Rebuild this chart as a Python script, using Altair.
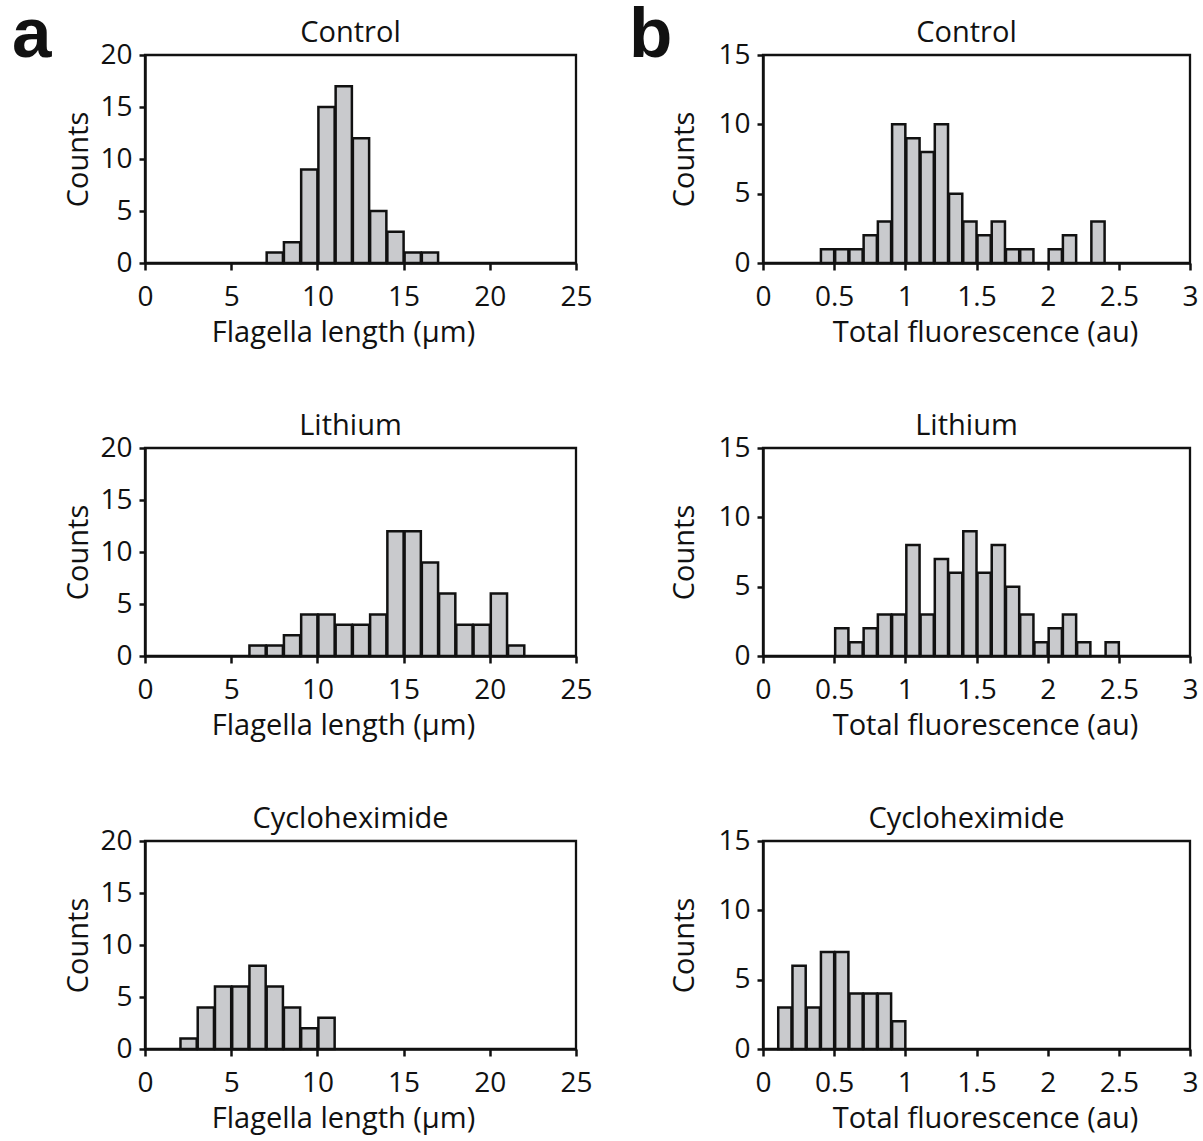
import altair as alt
import pandas as pd

FONT = "Open Sans"
FS_TICK = 28
FS_TEXT = 29

# ---- data ----
titles = ["Control", "Lithium", "Cycloheximide"]

# panel a: flagella length, bin width 1 µm
a_ctrl_starts = [7, 8, 9, 10, 11, 12, 13, 14, 15, 16]
a_ctrl_counts = [1, 2, 9, 15, 17, 12, 5, 3, 1, 1]
a_li_starts = [6, 7, 8, 9, 10, 11, 12, 13, 14, 15, 16, 17, 18, 19, 20, 21]
a_li_counts = [1, 1, 2, 4, 4, 3, 3, 4, 12, 12, 9, 6, 3, 3, 6, 1]
a_cy_starts = [2, 3, 4, 5, 6, 7, 8, 9, 10]
a_cy_counts = [1, 4, 6, 6, 8, 6, 4, 2, 3]
a_width = 1.0

# panel b: total fluorescence, bin width 0.1 au
b_ctrl_starts = [0.4, 0.5, 0.6, 0.7, 0.8, 0.9, 1.0, 1.1, 1.2, 1.3, 1.4, 1.5, 1.6, 1.7, 1.8, 1.9, 2.0, 2.1, 2.2, 2.3]
b_ctrl_counts = [1, 1, 1, 2, 3, 10, 9, 8, 10, 5, 3, 2, 3, 1, 1, 0, 1, 2, 0, 3]
b_li_starts = [0.5, 0.6, 0.7, 0.8, 0.9, 1.0, 1.1, 1.2, 1.3, 1.4, 1.5, 1.6, 1.7, 1.8, 1.9, 2.0, 2.1, 2.2, 2.3, 2.4]
b_li_counts = [2, 1, 2, 3, 3, 8, 3, 7, 6, 9, 6, 8, 5, 3, 1, 2, 3, 1, 0, 1]
b_cy_starts = [0.1, 0.2, 0.3, 0.4, 0.5, 0.6, 0.7, 0.8, 0.9]
b_cy_counts = [3, 6, 3, 7, 7, 4, 4, 4, 2]
b_width = 0.1

a_xticks = [0, 5, 10, 15, 20, 25]
a_yticks = [0, 5, 10, 15, 20]
b_xticks = [0, 0.5, 1, 1.5, 2, 2.5, 3]
b_yticks = [0, 5, 10, 15]

a_xtitle = "Flagella length (µm)"
b_xtitle = "Total fluorescence (au)"
ytitle = "Counts"

PANEL_W_A = 431
PANEL_W_B = 427
PANEL_H = 208

BAR_FILL = "#c9cacd"
INK = "#111111"


def make_df(starts, counts, width):
    rows = [
        {"start": s, "end": round(s + width, 3), "count": c}
        for s, c in zip(starts, counts)
        if c > 0
    ]
    return pd.DataFrame(rows)


def panel(df, title, xdom, xticks, ydom, yticks, xtitle, w, title_x, ytitle_pad,
          letter=None, letter_x=0):
    bars = alt.Chart(df).mark_bar(
        fill=BAR_FILL, stroke=INK, strokeWidth=2.5
    ).encode(
        x=alt.X(
            "start:Q", bin="binned",
            scale=alt.Scale(domain=xdom, nice=False, zero=False),
            axis=alt.Axis(
                values=xticks, title=xtitle, format="~g", tickSize=7,
                labelPadding=13, titlePadding=7, titleX=title_x, titleAnchor="middle",
                labelFlush=False, labelOverlap=False,
            ),
        ),
        x2="end:Q",
        y=alt.Y(
            "count:Q",
            scale=alt.Scale(domain=ydom, nice=False),
            axis=alt.Axis(
                values=yticks, title=ytitle, tickSize=6, labelPadding=7,
                titlePadding=ytitle_pad, labelFlush=False, labelOverlap=False,
            ),
        ),
    )
    ttl = alt.Chart(pd.DataFrame({"t": [title]})).mark_text(
        font=FONT, fontSize=FS_TEXT, align="center", baseline="alphabetic", color=INK,
    ).encode(x=alt.value(w / 2 - 10), y=alt.value(-13), text="t:N")
    layers = [bars, ttl]
    if letter is not None:
        lt = alt.Chart(pd.DataFrame({"t": [letter]})).mark_text(
            font="Liberation Sans", fontSize=71, fontWeight="bold",
            align="left", baseline="alphabetic", color=INK,
        ).encode(x=alt.value(letter_x), y=alt.value(2), text="t:N")
        layers.append(lt)
    return alt.layer(*layers).properties(width=w, height=PANEL_H)


a_data = [
    make_df(a_ctrl_starts, a_ctrl_counts, a_width),
    make_df(a_li_starts, a_li_counts, a_width),
    make_df(a_cy_starts, a_cy_counts, a_width),
]
b_data = [
    make_df(b_ctrl_starts, b_ctrl_counts, b_width),
    make_df(b_li_starts, b_li_counts, b_width),
    make_df(b_cy_starts, b_cy_counts, b_width),
]

charts = []
for i in range(3):
    charts.append(
        panel(a_data[i], titles[i], [0, 25], a_xticks, [0, 20], a_yticks, a_xtitle,
              PANEL_W_A, 198, 6, letter="a" if i == 0 else None, letter_x=-133)
    )
    charts.append(
        panel(b_data[i], titles[i], [0, 3], b_xticks, [0, 15], b_yticks, b_xtitle,
              PANEL_W_B, 222, 18, letter="b" if i == 0 else None, letter_x=-134)
    )

chart = alt.concat(
    *charts, columns=2, spacing={"row": 185, "column": 187}, bounds="flush"
).properties(
    padding={"left": 10, "top": -2, "right": 0, "bottom": 0}
).configure(
    font=FONT, background="white"
).configure_view(
    stroke=INK, strokeWidth=2.3
).configure_axis(
    grid=False, domainColor=INK, domainWidth=2.5, tickColor=INK, tickWidth=2.5,
    labelFont=FONT, labelFontSize=FS_TICK, labelColor=INK,
    titleFont=FONT, titleFontSize=FS_TEXT, titleFontWeight="normal", titleColor=INK,
)

chart.save("out.html", embed_options={"renderer": "svg", "actions": False})
